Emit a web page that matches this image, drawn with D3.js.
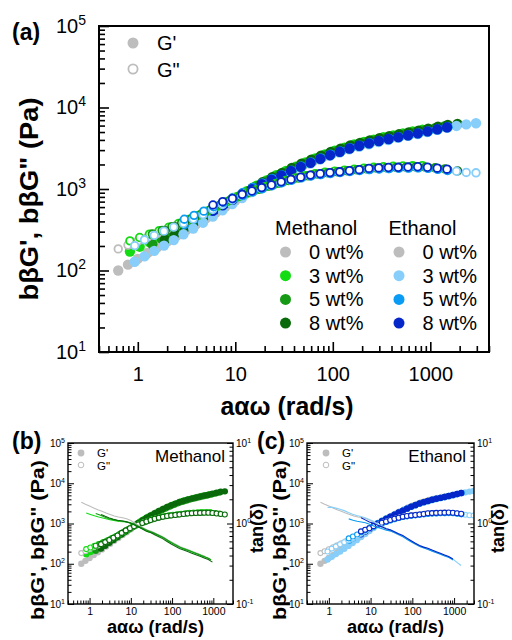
<!DOCTYPE html>
<html>
<head>
<meta charset="utf-8">
<script src="https://cdn.jsdelivr.net/npm/d3@7"></script>
<style>
  body { margin: 0; background: #fff; }
  svg { display: block; font-family: "Liberation Sans", Arial, sans-serif; }
</style>
</head>
<body>
<svg id="fig" width="512" height="640"></svg>
<script>
// ---- data (shifted master curves, 10 points per decade) ----
const pointsPerDecade = 10;
const wtLabels = ["0 wt%", "3 wt%", "5 wt%", "8 wt%"];

// first shifted frequency of every sample (rad/s)
const grayStart = 0.63, m3Start = 0.83, m5Start = 1.41, m8Start = 1.9;
const e3Start = 0.93, e5Start = 3.0, e8Start = 5.9;
// last frequency drawn in the tan(delta) curves (rad/s)
const grayTanEnd = 700, m3TanEnd = 900, m5TanEnd = 1000, m8TanEnd = 1100;
const e3TanEnd = 1800, e5TanEnd = 1000, e8TanEnd = 1000;

// 0 wt% (reference, shared by both alcohols)
const grayGp  = [100,118,139,164,193,227,268,315,372,438,515,608,720,860,1020,1185,1370,1550,1755,1985,2220,2490,2760,3030,3320,3570,3820,4080,4310,4550,4800];
const grayGpp = [184,205,229,256,286,322,362,408,462,528,608,698,785,872,960,1050,1140,1238,1328,1418,1500,1560,1612,1658,1705,1755,1800,1830,1852,1866,1878];
// methanol
const m3Gp  = [171,196,224,256,291,333,381,439,508,586,680,799,939,1101,1274,1476,1666,1872,2115,2370,2658,2946,3204,3511,3774,4037,4312,4553,4805,5069,5332];
const m3Gpp = [231,254,279,308,340,378,422,474,538,617,704,797,890,983,1076,1170,1273,1366,1459,1542,1604,1656,1703,1749,1801,1847,1879,1899,1915,1927,1935];
const m5Gp  = [210,243,284,332,385,448,523,608,708,822,956,1113,1288,1472,1666,1887,2123,2379,2653,2926,3210,3484,3736,3993,4240,4476,4723,4975,5253,5563,5893];
const m5Gpp = [280,310,344,384,433,490,562,644,733,819,904,994,1084,1179,1274,1364,1449,1520,1575,1622,1667,1715,1762,1800,1825,1842,1856,1866,1857,1820,1767];
const m8Gp  = [238,281,331,391,460,541,638,751,882,1034,1208,1399,1579,1808,2044,2290,2568,2846,3124,3424,3681,3938,4205,4441,4687,4943,5200,5511,5832,6127,6300];
const m8Gpp = [307,345,388,441,505,584,673,762,851,941,1030,1119,1218,1307,1396,1475,1535,1584,1629,1673,1723,1767,1797,1817,1832,1843,1851,1827,1777,1723,1668];
// ethanol
const e3Gp  = [128,149,174,202,236,278,328,386,459,548,652,774,917,1072,1255,1431,1622,1834,2054,2304,2554,2803,3072,3302,3533,3773,3984,4249,4481,4714,4996,5341,5664,5940,6200,6400];
const e3Gpp = [202,238,270,304,341,380,427,485,560,646,732,826,912,1009,1096,1193,1280,1368,1445,1504,1552,1596,1639,1688,1731,1761,1780,1795,1806,1814,1808,1759,1705,1651,1597,1580];
const e5Gp  = [373,433,502,580,673,777,896,1031,1172,1331,1474,1672,1890,2118,2375,2632,2889,3166,3404,3641,3888,4106,4334,4571,4808,5096,5393,5719];
const e5Gpp = [426,475,535,606,686,762,834,922,1009,1096,1193,1280,1368,1445,1504,1552,1596,1639,1688,1731,1761,1780,1795,1806,1814,1790,1741,1688];
const e8Gp  = [540,630,735,855,995,1145,1300,1470,1660,1870,2090,2340,2600,2860,3140,3390,3630,3880,4110,4330,4570,4820,5100,5400,5720];
const e8Gpp = [637,699,765,860,945,1040,1120,1225,1310,1395,1480,1540,1590,1625,1675,1725,1790,1815,1835,1845,1860,1875,1850,1800,1750];

const xTickLabels = [1, 10, 100, 1000];

// ---- build series ----
function makeSeries(color, start, gp, gpp, tanEnd) {
  const pts = gp.map((v, i) => ({ w: start * Math.pow(10, i / pointsPerDecade), gp: v, gpp: gpp[i] }));
  return { color, pts, tan: pts.filter(d => d.w <= tanEnd * 1.01) };
}
const gray = makeSeries("#bdbdbd", grayStart, grayGp, grayGpp, grayTanEnd);
const methanol = [gray,
  makeSeries("#14dc14", m3Start, m3Gp, m3Gpp, m3TanEnd),
  makeSeries("#169a16", m5Start, m5Gp, m5Gpp, m5TanEnd),
  makeSeries("#0a690a", m8Start, m8Gp, m8Gpp, m8TanEnd)];
const ethanol = [gray,
  makeSeries("#87cefa", e3Start, e3Gp, e3Gpp, e3TanEnd),
  makeSeries("#0a9cf5", e5Start, e5Gp, e5Gpp, e5TanEnd),
  makeSeries("#0526c8", e8Start, e8Gp, e8Gpp, e8TanEnd)];
const allSeries = [gray, ...methanol.slice(1), ...ethanol.slice(1)];

const svg = d3.select("#fig");
const isPow10 = d => Math.abs(Math.log10(d) - Math.round(Math.log10(d))) < 1e-6;

// "10" with superscript exponent
function powLabel(text, d, fs) {
  const e = Math.round(Math.log10(d));
  text.text(null);
  text.append("tspan").text("10");
  text.append("tspan").attr("dy", -fs * 0.42).attr("font-size", fs * 0.7).text(e);
}

// bold axis title squeezed to the length measured on the figure
function title(tx, ty, rot, len, fs, str) {
  svg.append("text").attr("transform", `translate(${tx},${ty})${rot ? " rotate(-90)" : ""}`)
    .attr("text-anchor", "middle").attr("font-size", fs).attr("font-weight", "bold")
    .attr("textLength", len).attr("lengthAdjust", "spacingAndGlyphs").text(str);
}

// draw frame + inward log ticks
function drawAxes(g, x, y, c) {
  const bx = g.append("g").attr("transform", `translate(0,${c.h})`)
    .call(d3.axisBottom(x).tickValues(x.ticks()).tickSize(-c.major).tickSizeOuter(0)
      .tickPadding(c.xPad).tickFormat(d => xTickLabels.includes(Math.round(d)) && isPow10(d) ? d : ""));
  bx.selectAll(".tick line").attr("stroke-width", c.tw).attr("y2", d => isPow10(d) ? -c.major : -c.minor);
  bx.selectAll("text").attr("font-size", c.fs).attr("fill", "#000").attr("font-family", null);

  const ly = g.append("g")
    .call(d3.axisLeft(y).tickValues(y.ticks()).tickSize(-c.major).tickSizeOuter(0).tickPadding(c.yPad)
      .tickFormat(d => isPow10(d) ? d : ""));
  ly.selectAll(".tick line").attr("stroke-width", c.tw).attr("x2", d => isPow10(d) ? c.major : c.minor);
  ly.selectAll("text").attr("font-size", c.yfs).attr("fill", "#000").attr("font-family", null)
    .each(function(d) { if (isPow10(d)) powLabel(d3.select(this), d, c.yfs); });

  if (c.yRight) {
    const ry = g.append("g").attr("transform", `translate(${c.w},0)`)
      .call(d3.axisRight(c.yRight).tickValues(c.yRight.ticks()).tickSize(-c.major).tickSizeOuter(0)
        .tickPadding(c.yPad).tickFormat(d => isPow10(d) ? d : ""));
    ry.selectAll(".tick line").attr("stroke-width", c.tw).attr("x2", d => isPow10(d) ? -c.major : -c.minor);
    ry.selectAll("text").attr("font-size", c.yfs).attr("fill", "#000").attr("font-family", null)
      .each(function(d) { if (isPow10(d)) powLabel(d3.select(this), d, c.yfs); });
    ry.select(".domain").remove();
  }
  bx.select(".domain").remove();
  ly.select(".domain").remove();
  g.append("rect").attr("width", c.w).attr("height", c.h)
    .attr("fill", "none").attr("stroke", "#000").attr("stroke-width", c.sw);
}

function drawPoints(g, x, y, list, rF, rO, swO) {
  list.forEach(s => {
    g.append("g").selectAll("circle").data(s.pts).join("circle")
      .attr("cx", d => x(d.w)).attr("cy", d => y(d.gp)).attr("r", rF).attr("fill", s.color);
  });
  list.forEach(s => {
    g.append("g").selectAll("circle").data(s.pts).join("circle")
      .attr("cx", d => x(d.w)).attr("cy", d => y(d.gpp)).attr("r", rO)
      .attr("fill", "#fff").attr("stroke", s.color).attr("stroke-width", swO);
  });
}

// ================= panel (a) =================
{
  const c = { w: 390, h: 326, major: 10, minor: 6, fs: 20, yfs: 20, tw: 1.6, sw: 2, xPad: 15, yPad: 13 };
  const g = svg.append("g").attr("transform", "translate(99,26)");
  const x = d3.scaleLog().domain([0.4, 4000]).range([0, c.w]);
  const y = d3.scaleLog().domain([10, 1e5]).range([c.h, 0]);

  g.append("clipPath").attr("id", "clipA").append("rect").attr("width", c.w).attr("height", c.h);
  const plot = g.append("g").attr("clip-path", "url(#clipA)");
  drawPoints(plot, x, y, allSeries, 5.2, 3.8, 1.8);
  drawAxes(g, x, y, c);

  // G' / G'' key
  const key = g.append("g").attr("font-size", 20);
  key.append("circle").attr("cx", 34).attr("cy", 17).attr("r", 5.5).attr("fill", "#bdbdbd");
  key.append("circle").attr("cx", 34).attr("cy", 43).attr("r", 4.6).attr("fill", "#fff")
    .attr("stroke", "#bdbdbd").attr("stroke-width", 1.8);
  key.append("text").attr("x", 58).attr("y", 24).text("G'");
  key.append("text").attr("x", 58).attr("y", 51).text("G\"");

  // alcohol legend
  const leg = g.append("g").attr("font-size", 20);
  [["Methanol", methanol, 176], ["Ethanol", ethanol, 289.5]].forEach(([name, list, lx]) => {
    leg.append("text").attr("x", lx).attr("y", 209).text(name);
    list.forEach((s, i) => {
      const cy = 226 + i * 23.7;
      leg.append("circle").attr("cx", lx + 10.5).attr("cy", cy).attr("r", 5.5).attr("fill", s.color);
      leg.append("text").attr("x", lx + 34).attr("y", cy + 7).text(wtLabels[i]);
    });
  });

  svg.append("text").attr("x", 12).attr("y", 40).attr("font-size", 23).attr("font-weight", "bold").text("(a)");
  title(287, 415, false, 133, 26, "aαω (rad/s)");
  title(38, 199, true, 203, 26, "bβG', bβG\" (Pa)");
}

// ================= panels (b) and (c) =================
function smallPanel(left, w, list, tag, name, tagX, keyX, yLabelGap) {
  const c = { w, h: 161, major: 6, minor: 3.5, fs: 10.5, yfs: 10, tw: 1, sw: 1.4, xPad: 4, yPad: 3 };
  const g = svg.append("g").attr("transform", `translate(${left},443)`);
  const x = d3.scaleLog().domain([0.3, 3000]).range([0, c.w]);
  const y = d3.scaleLog().domain([10, 1e5]).range([c.h, 0]);
  const yt = d3.scaleLog().domain([0.1, 10]).range([c.h, 0]);
  c.yRight = yt;

  g.append("clipPath").attr("id", "clip" + tag[1]).append("rect").attr("width", c.w).attr("height", c.h);
  const plot = g.append("g").attr("clip-path", `url(#clip${tag[1]})`);
  drawPoints(plot, x, y, list, 3.2, 2.5, 1.1);

  // tan(delta) = G''/G' of each sample
  const line = d3.line().x(d => x(d.w)).y(d => yt(d.gpp / d.gp));
  list.forEach(s => {
    plot.append("path").datum(s.tan).attr("d", line)
      .attr("fill", "none").attr("stroke", s.color).attr("stroke-width", 1.1);
  });
  drawAxes(g, x, y, c);

  const key = g.append("g").attr("font-size", 11.5);
  key.append("circle").attr("cx", keyX).attr("cy", 10).attr("r", 3.4).attr("fill", "#bdbdbd");
  key.append("circle").attr("cx", keyX).attr("cy", 22).attr("r", 2.8).attr("fill", "#fff")
    .attr("stroke", "#bdbdbd").attr("stroke-width", 1);
  key.append("text").attr("x", keyX + 16).attr("y", 14).text("G'");
  key.append("text").attr("x", keyX + 16).attr("y", 27).text("G\"");
  g.append("text").attr("x", c.w - 8).attr("y", 19).attr("text-anchor", "end").attr("font-size", 17).text(name);

  svg.append("text").attr("x", tagX).attr("y", 449).attr("font-size", 23).attr("font-weight", "bold").text(tag);
  title(left + c.w / 2 + 5, 633, false, 97, 18, "aαω (rad/s)");
  title(left - yLabelGap, 540, true, 160, 19, "bβG', bβG\" (Pa)");
  title(left + c.w + 30, 528, true, 50, 18, "tan(δ)");
}
smallPanel(68, 165, methanol, "(b)", "Methanol", 12, 13, 24);
smallPanel(307, 167, ethanol, "(c)", "Ethanol", 257, 19, 21);
</script>
</body>
</html>
